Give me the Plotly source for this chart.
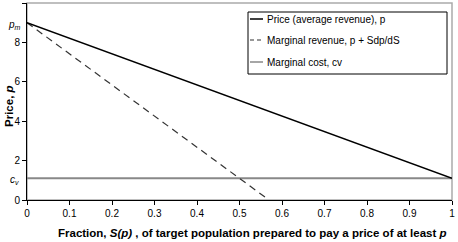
import plotly.graph_objects as go

# ---- data ----
s_price = [0, 1]
price = [9, 1.1]
s_mr = [0, 0.56]
mr = [9, 0.15]
s_cost = [0, 1]
cost = [1.1, 1.1]
names = ["Price (average revenue), p", "Marginal revenue, p + Sdp/dS", "Marginal cost, cv"]
x_ticks = [0, 0.1, 0.2, 0.3, 0.4, 0.5, 0.6, 0.7, 0.8, 0.9, 1]
x_tick_labels = ["0", "0.1", "0.2", "0.3", "0.4", "0.5", "0.6", "0.7", "0.8", "0.9", "1"]
y_ticks = [0, 2, 4, 6, 8, 10]

W, H = 458, 242
L, R, T, B = 27, 6, 3, 42
PW, PH = W - L - R, H - T - B
def px(x): return (x - L) / PW
def py(y): return (H - B - y) / PH

FONT = "Liberation Sans, Arial, sans-serif"
fig = go.Figure()
fig.add_trace(go.Scatter(x=s_cost, y=cost, mode="lines", name=names[2],
                         line=dict(color="#888888", width=2), showlegend=False))
fig.add_trace(go.Scatter(x=s_mr, y=mr, mode="lines", name=names[1],
                         line=dict(color="#333333", width=1.2, dash="7px,5px"), showlegend=False))
fig.add_trace(go.Scatter(x=s_price, y=price, mode="lines", name=names[0],
                         line=dict(color="black", width=1.5), showlegend=False))

shapes = [
    dict(type="rect", xref="paper", yref="paper", x0=0, x1=1, y0=0, y1=1,
         line=dict(color="#aaaaaa", width=1.5), layer="below"),
    dict(type="rect", xref="paper", yref="paper", x0=px(248), x1=px(447), y0=py(74), y1=py(12),
         line=dict(color="black", width=1), fillcolor="white", layer="above"),
]
styles = [dict(color="black", width=1.5), dict(color="#333333", width=1.2, dash="4px,3px"),
          dict(color="#888888", width=1.5)]
rows = [19, 40, 62]
annotations = []
for nm, st, ry in zip(names, styles, rows):
    shapes.append(dict(type="line", xref="paper", yref="paper", x0=px(250), x1=px(263),
                       y0=py(ry), y1=py(ry), line=st, layer="above"))
    annotations.append(dict(xref="paper", yref="paper", x=px(265), y=py(ry), text=nm,
                            showarrow=False, xanchor="left", yanchor="middle",
                            font=dict(size=10, color="black", family=FONT)))

annotations += [
    dict(xref="paper", yref="y", x=px(14), y=8.9, text="<i>p</i><sub><i>m</i></sub>",
         showarrow=False, xanchor="center", yanchor="middle",
         font=dict(size=10, color="black", family=FONT)),
    dict(xref="paper", yref="y", x=px(14), y=1.0, text="<i>c</i><sub><i>v</i></sub>",
         showarrow=False, xanchor="center", yanchor="middle",
         font=dict(size=10, color="black", family=FONT)),
    dict(xref="paper", yref="paper", x=px(252), y=py(233),
         text="<b>Fraction, <i>S(p)</i> , of target population prepared to pay a price of at least <i>p</i></b>",
         showarrow=False, xanchor="center", yanchor="middle",
         font=dict(size=11.5, color="black", family=FONT)),
    dict(xref="paper", yref="paper", x=px(1), y=py(106), text="<b>Price, <i>p</i></b>", textangle=-90,
         showarrow=False, xanchor="left", yanchor="middle",
         font=dict(size=11.5, color="black", family=FONT)),
]

fig.update_layout(
    width=W, height=H, margin=dict(l=L, r=R, t=T, b=B),
    paper_bgcolor="white", plot_bgcolor="white",
    font=dict(family=FONT, size=10, color="black"),
    shapes=shapes, annotations=annotations, showlegend=False,
)
fig.update_xaxes(range=[0, 1], tickvals=x_ticks, ticktext=x_tick_labels, showgrid=False,
                 zeroline=False, showline=True, linecolor="black", linewidth=1,
                 ticks="outside", ticklen=4, tickcolor="black", tickfont=dict(size=10))
fig.update_yaxes(range=[0, 10], tickvals=y_ticks, showgrid=False, zeroline=False,
                 showline=True, linecolor="black", linewidth=1,
                 ticks="outside", ticklen=4, tickcolor="black", tickfont=dict(size=10))

fig.write_html("out.html")
